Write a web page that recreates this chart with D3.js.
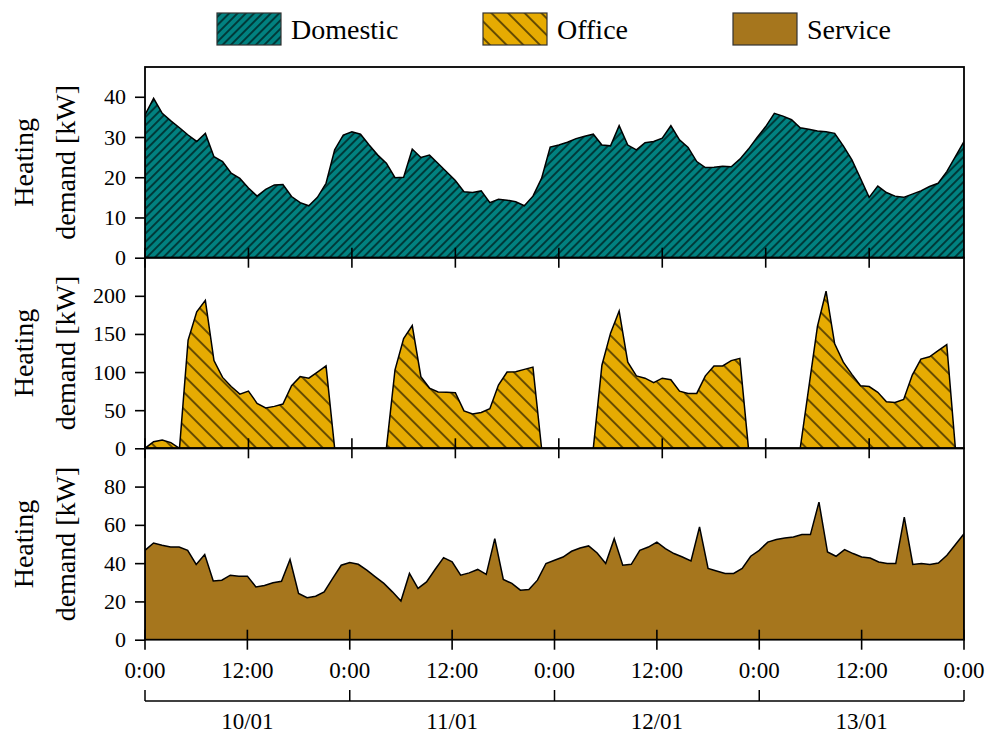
<!DOCTYPE html>
<html>
<head>
<meta charset="utf-8">
<script src="https://cdn.jsdelivr.net/npm/d3@7"></script>
<style>
  body { margin: 0; background: #fff; }
  svg { display: block; }
  text { font-family: "Liberation Serif", "Times New Roman", serif; fill: #000; }
</style>
</head>
<body>
<svg id="chart" width="989" height="735"></svg>
<script>
// Hourly heating demand per building type, 10/01 00:00 onwards [kW]
const domestic = [
  35.5, 39.6, 35.9, 34.0, 32.3, 30.5, 28.9, 30.9, 25.1, 23.9,
  21.0, 19.7, 17.3, 15.3, 17.0, 18.1, 18.2, 15.2, 13.7, 12.9,
  15.0, 18.5, 26.8, 30.5, 31.3, 30.7, 28.0, 25.5, 23.5, 19.9,
  20.0, 27.0, 24.9, 25.5, 23.4, 21.3, 19.2, 16.4, 16.2, 16.6,
  13.7, 14.5, 14.3, 13.9, 12.9, 15.3, 19.7, 27.5, 28.0, 28.7,
  29.6, 30.2, 30.7, 28.0, 27.8, 32.8, 28.0, 26.8, 28.6, 28.9,
  29.7, 32.8, 29.3, 27.4, 23.9, 22.4, 22.5, 22.7, 22.6, 24.5,
  27.0, 29.9, 32.6, 35.9, 35.2, 34.3, 32.3, 31.9, 31.5, 31.3,
  30.9, 27.8, 24.3, 19.7, 15.0, 17.8, 16.2, 15.3, 15.0, 15.8,
  16.6, 17.7, 18.5, 21.4, 25.1, 28.9
];
const office = [
  0, 8.7, 10.9, 7.4, 0, 142, 179, 194, 115, 93,
  81, 71, 75, 59, 53, 55, 58, 82, 94, 92,
  100, 108, 0, 0, 0, 0, 0, 0, 0, 103,
  144, 161, 94, 79, 74, 73.5, 73, 49, 45, 47,
  52, 83, 100, 100.5, 103.5, 106.5, 0, 0, 0, 0,
  0, 0, 0, 109, 151, 180, 113, 95, 92, 86,
  92, 90, 75, 72, 72, 95, 108, 108, 115, 118,
  0, 0, 0, 0, 0, 0, 0, 80, 160, 206,
  137, 113, 97, 82, 81, 73.5, 61, 60, 64, 96,
  117, 120, 128, 136, 0, 0
];
const service = [
  46.7, 50.5, 49.3, 48.4, 48.4, 46.7, 39.3, 44.5, 30.7, 31.1,
  33.7, 33.2, 33.2, 27.6, 28.3, 29.7, 30.5, 41.9, 24.2, 21.9,
  22.7, 25.0, 32.0, 38.9, 40.3, 39.4, 36.3, 32.8, 29.4, 25.0,
  20.2, 34.6, 26.8, 30.2, 36.7, 42.9, 40.7, 33.7, 34.9, 36.7,
  34.1, 52.8, 31.5, 29.4, 25.9, 26.2, 31.1, 39.8, 41.5, 43.2,
  46.2, 47.9, 49.0, 45.3, 39.8, 52.8, 38.9, 39.4, 46.7, 48.4,
  51.0, 47.6, 45.0, 43.2, 41.1, 58.9, 37.2, 35.9, 34.6, 34.6,
  37.2, 43.6, 46.7, 51.0, 52.3, 53.1, 53.7, 54.9, 54.9, 71.9,
  45.8, 43.6, 47.1, 45.0, 43.2, 42.7, 40.6, 39.8, 39.8, 64.1,
  39.3, 39.8, 39.3, 40.1, 44.1, 49.7, 55.4
];

const seriesNames = ["Domestic", "Office", "Service"];
const yTicksDomestic = [0, 10, 20, 30, 40];
const yTicksOffice = [0, 50, 100, 150, 200];
const yTicksService = [0, 20, 40, 60, 80];
const hourTicks = [0, 12, 24, 36, 48, 60, 72, 84, 96];
const hourLabels = ["0:00", "12:00", "0:00", "12:00", "0:00", "12:00", "0:00", "12:00", "0:00"];
const dayTicks = [0, 24, 48, 72, 96];
const dayCentres = [12, 36, 60, 84];
const dayLabels = ["10/01", "11/01", "12/01", "13/01"];
const yLabelLines = ["Heating", "demand [kW]"];

const svg = d3.select("#chart");
const left = 145, right = 964;

// index-based x for the first two series, hour-based x for the last one and the time axis
const xIdx = d3.scaleLinear().domain([0, domestic.length - 1]).range([left, right]);
const xHour = d3.scaleLinear().domain([0, 96]).range([left, right]);

const colors = { Domestic: "#018180", Office: "#e6ab02", Service: "#a6761d" };

// hatch patterns: "//" for Domestic, "\" for Office
const defs = svg.append("defs");
function hatch(id, spacing, angle) {
  const p = defs.append("pattern")
    .attr("id", id)
    .attr("patternUnits", "userSpaceOnUse")
    .attr("width", spacing).attr("height", spacing)
    .attr("patternTransform", `rotate(${angle})`);
  p.append("line")
    .attr("x1", spacing / 2).attr("x2", spacing / 2)
    .attr("y1", -1).attr("y2", spacing + 1)
    .attr("stroke", "#000").attr("stroke-width", 1.1);
}
hatch("hatch-domestic", 8.33 / Math.SQRT2, 45);
hatch("hatch-office", 16.67 / Math.SQRT2, -45);

const panels = [
  { name: "Domestic", data: domestic, x: xIdx, ymax: 47.4, ticks: yTicksDomestic, top: 67, bottom: 257.7, hatch: "hatch-domestic" },
  { name: "Office",   data: office,   x: xIdx, ymax: 250,  ticks: yTicksOffice,   top: 257.7, bottom: 448.3, hatch: "hatch-office" },
  { name: "Service",  data: service,  x: xHour, ymax: 100, ticks: yTicksService,  top: 448.3, bottom: 639.7, hatch: null }
];

panels.forEach((p, k) => {
  const y = d3.scaleLinear().domain([0, p.ymax]).range([p.bottom, p.top]);
  const clipId = "clip" + k;
  defs.append("clipPath").attr("id", clipId)
    .append("rect").attr("x", left).attr("y", p.top)
    .attr("width", right - left).attr("height", p.bottom - p.top);

  const area = d3.area()
    .x((d, i) => p.x(i))
    .y0(y(0))
    .y1(d => y(d));

  const g = svg.append("g").attr("clip-path", `url(#${clipId})`);
  g.append("path").datum(p.data).attr("d", area).attr("fill", colors[p.name]);
  if (p.hatch) {
    g.append("path").datum(p.data).attr("d", area).attr("fill", `url(#${p.hatch})`);
  }
  g.append("path").datum(p.data).attr("d", area)
    .attr("fill", "none").attr("stroke", "#000").attr("stroke-width", 1.5)
    .attr("stroke-linejoin", "miter");

  // y axis
  const ya = svg.append("g").attr("transform", `translate(${left},0)`)
    .call(d3.axisLeft(y).tickValues(p.ticks).tickSize(10).tickPadding(9).tickFormat(d3.format("d")));
  ya.select(".domain").remove();
  ya.selectAll(".tick line").attr("stroke", "#000").attr("stroke-width", 1.6);
  ya.selectAll(".tick text").style("font-family", '"Liberation Serif", serif').style("font-size", "22px").attr("fill", "#000");

  // bottom ticks, crossing the frame
  const tickVals = p.name === "Service" ? hourTicks : hourTicks.filter(h => h <= p.data.length - 1);
  svg.append("g").selectAll("line").data(tickVals).join("line")
    .attr("x1", d => p.x(d)).attr("x2", d => p.x(d))
    .attr("y1", p.bottom - 10).attr("y2", p.bottom + 10)
    .attr("stroke", "#000").attr("stroke-width", 1.6);

  // frame
  svg.append("rect").attr("x", left).attr("y", p.top)
    .attr("width", right - left).attr("height", p.bottom - p.top)
    .attr("fill", "none").attr("stroke", "#000").attr("stroke-width", 1.8);

  // y label, two lines
  const cy = (p.top + p.bottom) / 2;
  const lab = svg.append("g").attr("transform", `translate(0,${cy}) rotate(-90)`);
  lab.selectAll("text").data(yLabelLines).join("text")
    .attr("x", 0).attr("y", (d, i) => 33 + i * 42)
    .attr("text-anchor", "middle").style("font-size", "28px")
    .text(d => d);
});

// time-of-day labels
svg.append("g").selectAll("text").data(hourTicks).join("text")
  .attr("x", d => xHour(d)).attr("y", 678)
  .attr("text-anchor", "middle").style("font-size", "23px")
  .text((d, i) => hourLabels[i]);

// day bracket
const br = svg.append("g").attr("stroke", "#000").attr("stroke-width", 1.5).attr("fill", "none");
br.append("line").attr("x1", xHour(0)).attr("x2", xHour(96)).attr("y1", 701).attr("y2", 701);
br.selectAll(".dt").data(dayTicks).join("line").attr("class", "dt")
  .attr("x1", d => xHour(d)).attr("x2", d => xHour(d)).attr("y1", 690).attr("y2", 701);
svg.append("g").selectAll("text").data(dayCentres).join("text")
  .attr("x", d => xHour(d)).attr("y", 729)
  .attr("text-anchor", "middle").style("font-size", "23px")
  .text((d, i) => dayLabels[i]);

// legend
const legendX = [217, 483, 733];
const leg = svg.append("g").selectAll("g").data(seriesNames).join("g")
  .attr("transform", (d, i) => `translate(${legendX[i]},13)`);
leg.append("rect").attr("width", 64).attr("height", 32).attr("fill", d => colors[d]);
leg.filter(d => d !== "Service").append("rect").attr("width", 64).attr("height", 32)
  .attr("fill", d => d === "Domestic" ? "url(#hatch-domestic)" : "url(#hatch-office)");
leg.append("rect").attr("width", 64).attr("height", 32)
  .attr("fill", "none").attr("stroke", "#333").attr("stroke-width", 1.2);
leg.append("text").attr("x", 74).attr("y", 26).style("font-size", "28px").text(d => d);
</script>
</body>
</html>
